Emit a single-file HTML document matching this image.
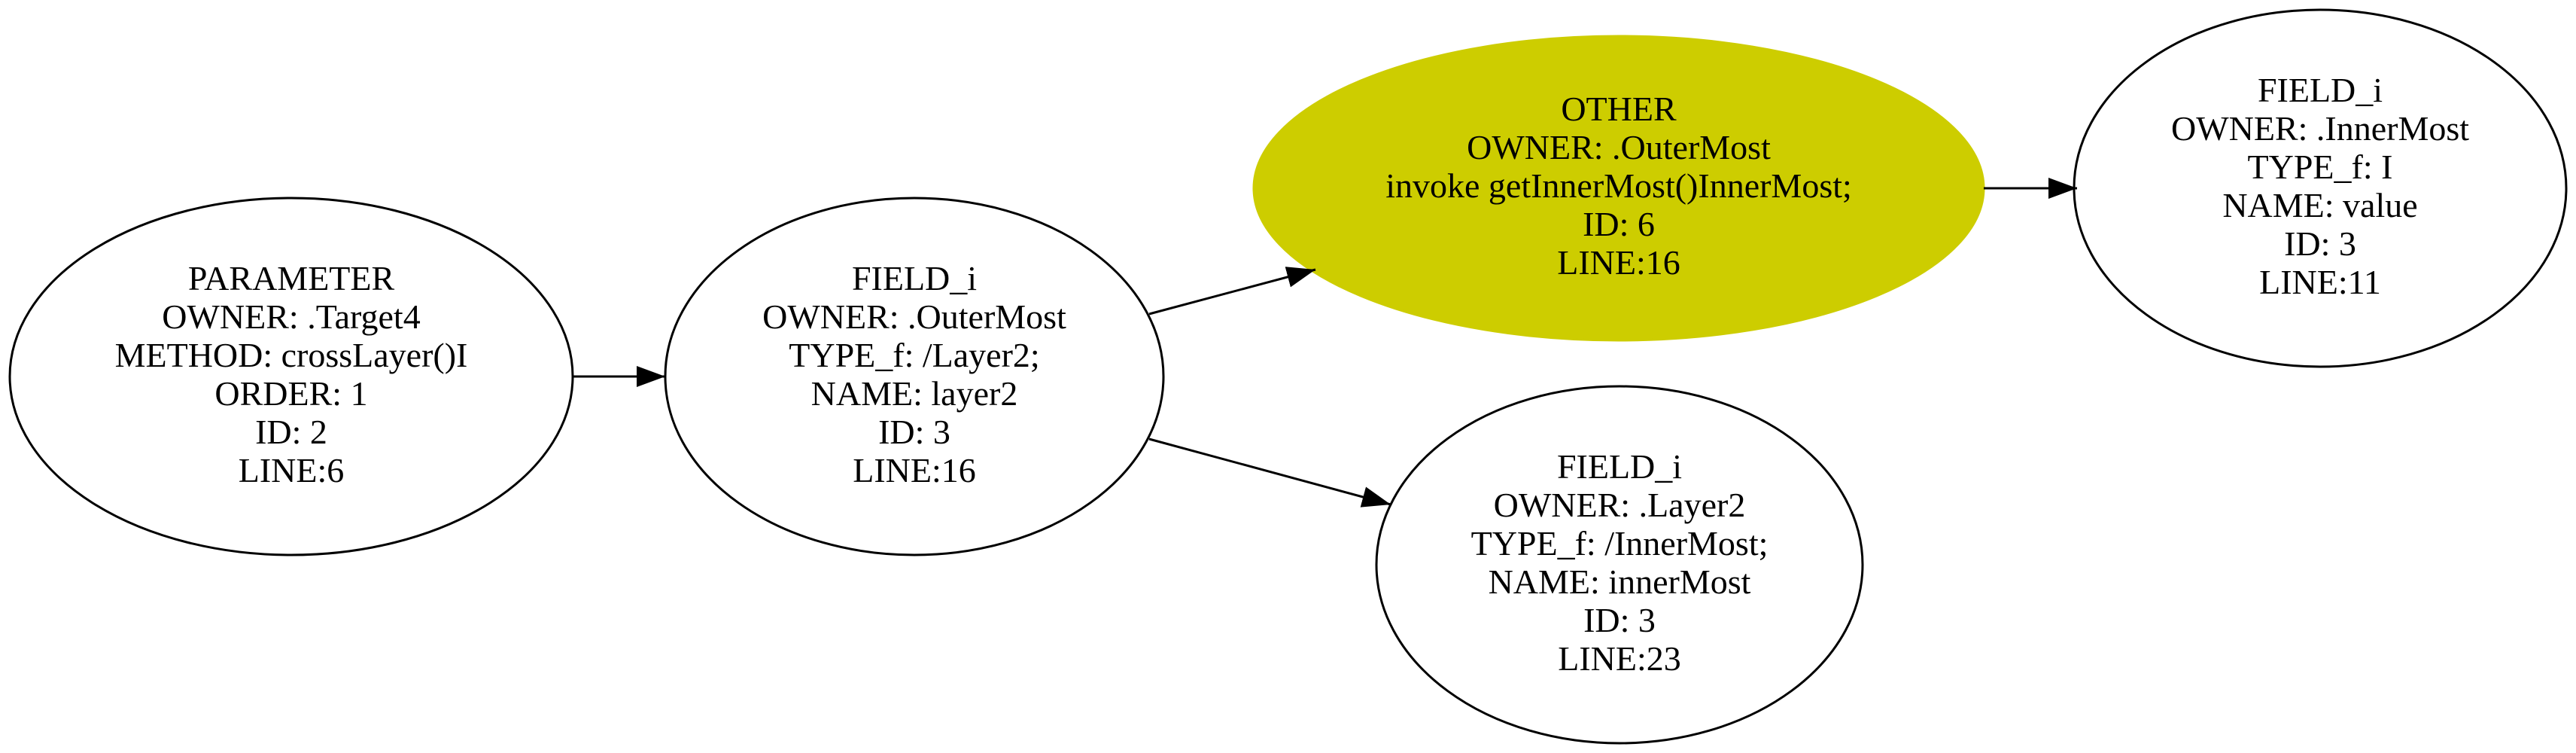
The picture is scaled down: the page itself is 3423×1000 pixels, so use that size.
<!DOCTYPE html>
<html><head><meta charset="utf-8"><style>html,body{margin:0;padding:0;background:#fff;}svg{display:block}</style></head>
<body>
<svg width="3423" height="1000" viewBox="0 0 3423 1000" xmlns="http://www.w3.org/2000/svg">
<defs>
<marker id="ah" markerUnits="userSpaceOnUse" markerWidth="40" markerHeight="30" refX="38" refY="14" orient="auto">
<path d="M0,0 L38,14 L0,28 z" fill="#000"/>
</marker>
</defs>
<g fill="none" stroke="#000" stroke-width="3">
<ellipse cx="387" cy="500" rx="374" ry="237"/>
<ellipse cx="1215" cy="500" rx="331" ry="237"/>
<ellipse cx="2151" cy="250" rx="485" ry="202" fill="#cdcd00" stroke="#cdcd00"/>
<ellipse cx="3083" cy="250" rx="327" ry="237"/>
<ellipse cx="2152" cy="750" rx="323" ry="237"/>
<line x1="761" y1="500" x2="884" y2="500" marker-end="url(#ah)"/>
<line x1="2636" y1="250" x2="2760" y2="250" marker-end="url(#ah)"/>
<line x1="1527" y1="417" x2="1748" y2="358" marker-end="url(#ah)"/>
<line x1="1527" y1="583" x2="1848" y2="670" marker-end="url(#ah)"/>
</g>
<g font-family="Liberation Serif, serif" font-size="46" text-anchor="middle" fill="#000">
<text x="387" y="385">PARAMETER</text>
<text x="387" y="436">OWNER: .Target4</text>
<text x="387" y="487">METHOD: crossLayer()I</text>
<text x="387" y="538">ORDER: 1</text>
<text x="387" y="589">ID: 2</text>
<text x="387" y="640">LINE:6</text>

<text x="1215" y="385">FIELD_i</text>
<text x="1215" y="436">OWNER: .OuterMost</text>
<text x="1215" y="487">TYPE_f: /Layer2;</text>
<text x="1215" y="538">NAME: layer2</text>
<text x="1215" y="589">ID: 3</text>
<text x="1215" y="640">LINE:16</text>

<text x="2151" y="160">OTHER</text>
<text x="2151" y="211">OWNER: .OuterMost</text>
<text x="2151" y="262">invoke getInnerMost()InnerMost;</text>
<text x="2151" y="313">ID: 6</text>
<text x="2151" y="364">LINE:16</text>

<text x="3083" y="135">FIELD_i</text>
<text x="3083" y="186">OWNER: .InnerMost</text>
<text x="3083" y="237">TYPE_f: I</text>
<text x="3083" y="288">NAME: value</text>
<text x="3083" y="339">ID: 3</text>
<text x="3083" y="390">LINE:11</text>

<text x="2152" y="635">FIELD_i</text>
<text x="2152" y="686">OWNER: .Layer2</text>
<text x="2152" y="737">TYPE_f: /InnerMost;</text>
<text x="2152" y="788">NAME: innerMost</text>
<text x="2152" y="839">ID: 3</text>
<text x="2152" y="890">LINE:23</text>
</g>
</svg>
</body></html>
